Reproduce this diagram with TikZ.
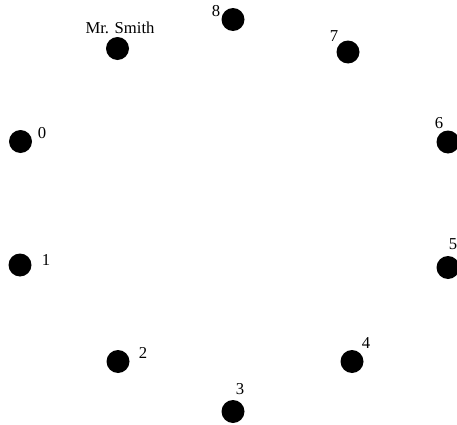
\documentclass[tikz,border=0pt]{standalone}
\usepackage{fontspec}
\setmainfont{Liberation Serif}
\tikzset{
  seat/.style={circle,fill=black,inner sep=0pt,minimum size=13.8pt},
  seatlbl/.style={anchor=base,inner sep=0pt,font=\fontsize{10}{12}\selectfont}
}
\begin{document}
\begin{tikzpicture}[x=0.6pt,y=-0.6pt]
  \useasboundingbox (0,0) rectangle (457,425);
  % seats round the table
  \node[seat] (s0) at (20.5,141.5) {};
  \node[seat] (s1) at (20,265) {};
  \node[seat] (s2) at (118,361.5) {};
  \node[seat] (s3) at (233,411.5) {};
  \node[seat] (s4) at (352,361.5) {};
  \node[seat] (s5) at (448,267.5) {};
  \node[seat] (s6) at (448,142) {};
  \node[seat] (s7) at (348,52) {};
  \node[seat] (s8) at (233,19.5) {};
  \node[seat] (smith) at (117.5,48.5) {};
  % numbers
  \node[seatlbl] (l0) at (42,138) {0};
  \node[seatlbl] (l1) at (46,265) {1};
  \node[seatlbl] (l2) at (143,358) {2};
  \node[seatlbl] (l3) at (240,394) {3};
  \node[seatlbl] (l4) at (366,348) {4};
  \node[seatlbl] (l5) at (453,249) {5};
  \node[seatlbl] (l6) at (439,128) {6};
  \node[seatlbl] (l7) at (334,41) {7};
  \node[seatlbl] (l8) at (216,17) {8};
  \node[seatlbl] (lsmith) at (120,34) {Mr. Smith};
\end{tikzpicture}
\end{document}
